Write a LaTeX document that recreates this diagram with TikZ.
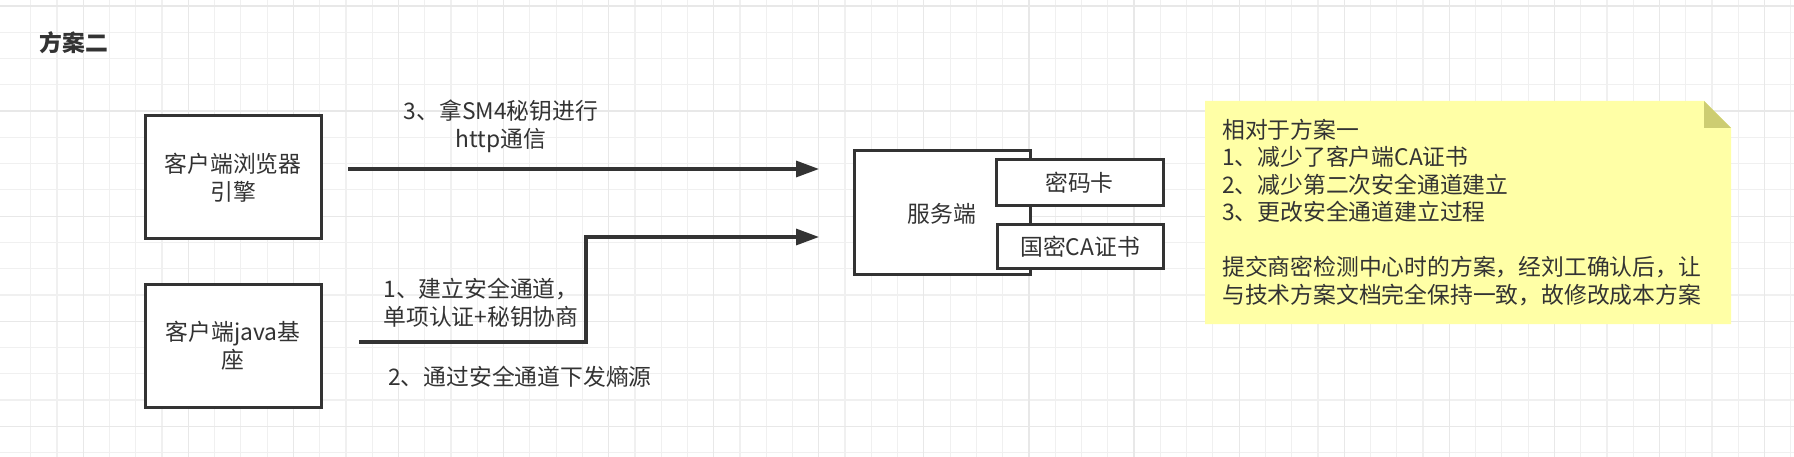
\documentclass[tikz,border=0pt]{standalone}
\usepackage{fontspec}
\setmainfont{Noto Sans CJK SC}
\usetikzlibrary{arrows.meta}
\definecolor{ink}{HTML}{333333}
\definecolor{gridminor}{HTML}{F0F0F0}
\definecolor{gridmajor}{HTML}{E8E8E8}
\definecolor{notefill}{HTML}{FFFFA6}
\definecolor{notefold}{HTML}{CDCD72}
\tikzset{
  txt/.style={text=ink, inner sep=0pt, align=center, font=\fontsize{22.8pt}{28pt}\selectfont},
  box/.style={draw=ink, fill=white, line width=3pt, txt},
  conn/.style={draw=ink, line width=3.3pt, -{Triangle[length=23pt,width=16pt]}},
}
\begin{document}
\begin{tikzpicture}[x=1pt,y=-1pt]
\useasboundingbox (0,0) rectangle (1794,457);
\fill[white] (0,0) rectangle (1794,457);
% grid
\foreach \k in {0,...,67} \draw[gridminor, line width=1.2pt] ({30.7+26.27*\k},0) -- ++(0,457);
\foreach \j in {0,...,17} \draw[gridminor, line width=1.2pt] (0,{6+26.27*\j}) -- ++(1794,0);
\foreach \k in {2,6,...,66} \draw[gridmajor, line width=1.2pt] ({30.7+26.27*\k},0) -- ++(0,457);
\foreach \j in {0,4,...,16} \draw[gridmajor, line width=1.2pt] (0,{6+26.27*\j}) -- ++(1794,0);

% title
\node[txt, font=\fontsize{22.8pt}{28pt}\selectfont\bfseries] (title) at (74,43) {方案二};

% client boxes
\node[box, minimum width=176pt, minimum height=123pt] (browser) at (233,177.5) {客户端浏览器\\引擎};
\node[box, minimum width=176pt, minimum height=123pt] (java) at (233,345.5) {客户端java基\\座};

% server
\node[box, minimum width=176pt, minimum height=123pt] (server) at (942,212.5) {};
\node[txt] (serverlbl) at (942,214) {服务端};
\node[box, minimum width=167pt, minimum height=46pt] (card) at (1079.5,183) {密码卡};
\node[box, minimum width=166pt, minimum height=43pt] (cert) at (1080,246.5) {国密CA证书};

% connectors
\coordinate (a3s) at (348,169);
\coordinate (a3e) at (819,169);
\coordinate (a1s) at (359,342);
\coordinate (a1m) at (586,342);
\coordinate (a1n) at (586,237);
\coordinate (a1e) at (819,237);
\draw[conn] (a3s) -- (a3e);
\draw[conn] (a1s) -- (a1m) -- (a1n) -- (a1e);

% labels
\node[txt] (l3) at (501,126) {3、拿SM4秘钥进行\\http通信};
\node[txt] (l1) at (481,302.5) {1、建立安全通道，\\单项认证+秘钥协商};
\node[txt] (l2) at (520,377) {2、通过安全通道下发熵源};

% note
\fill[notefill] (1205,101) -- (1704,101) -- (1731,128) -- (1731,324) -- (1205,324) -- cycle;
\fill[notefold] (1704,101) -- (1731,128) -- (1704,128) -- cycle;
\node[txt, align=left, anchor=west, font=\fontsize{22.8pt}{27.5pt}\selectfont] (note) at (1222,212.5)
  {相对于方案一\\1、减少了客户端CA证书\\2、减少第二次安全通道建立\\3、更改安全通道建立过程\\[27.5pt]提交商密检测中心时的方案，经刘工确认后，让\\与技术方案文档完全保持一致，故修改成本方案};
\end{tikzpicture}
\end{document}
